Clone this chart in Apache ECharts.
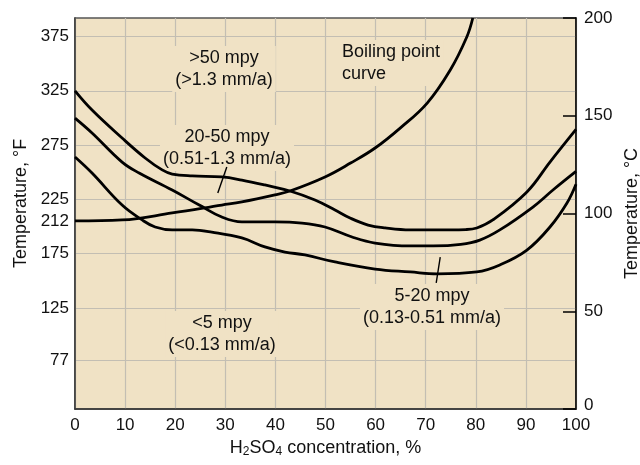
<!DOCTYPE html>
<html>
<head>
<meta charset="utf-8">
<script src="https://cdn.jsdelivr.net/npm/echarts@6/dist/echarts.min.js"></script>
<style>html,body{margin:0;padding:0;background:#fff;}#c{width:640px;height:465px;}</style>
</head>
<body>
<div id="c"></div>
<script>
// ---- data (x = H2SO4 %, y = temperature °C) ----
const xTicks = [0, 10, 20, 30, 40, 50, 60, 70, 80, 90, 100];
const fLabelTicks = [77, 125, 175, 212, 225, 275, 325, 375];
const fGridTicks = [77, 125, 175, 225, 275, 325, 375];
const cTicks = [0, 50, 100, 150, 200];

const boilingCurve = [[0,96.2],[9.4,96.7],[19.4,100.3],[29.3,104.3],[33.3,105.9],[39.9,109.5],[42.9,111.5],[49.9,118.7],[55,125.8],[59.9,133.5],[64.9,143.7],[70.3,156.5],[74.9,173.4],[78.2,190.3],[79.4,200]];
const curve50 = [[0,162.7],[3.4,152.9],[9.4,138.6],[14.0,128.4],[17.4,122.3],[19.4,120.2],[23.4,119.2],[29.3,118.7],[33.3,117.1],[37.9,114.6],[42.9,111.5],[47.9,106.9],[51.9,101.8],[54.9,97.7],[58.5,94.1],[61.9,92.6],[66.9,91.6],[71.5,91.6],[78,91.8],[80.2,92.6],[83.4,96.7],[90.2,111],[94.8,126.3],[100,143]];
const curve20 = [[0,148.8],[3.4,141.2],[9.4,126.3],[12.8,120.7],[19.4,112],[24.8,104.3],[29.3,98.2],[33.3,95.7],[39.9,95.7],[45.3,95.1],[49.9,93.1],[55.3,88],[59.9,84.9],[66.9,83.4],[71.5,83.4],[77,84.2],[80.8,86.4],[84.8,91.6],[91.4,103.3],[95.4,112],[100,121.5]];
const curve5 = [[0,128.9],[3.4,120.7],[9.4,104.3],[13.4,96.7],[16,93.1],[19.4,91.6],[23.4,91.6],[27.3,90.5],[33.3,87.5],[37.9,82.9],[41.9,80.3],[45.9,78.8],[51.9,75.2],[59.9,71.6],[66.9,70.1],[72.3,69.1],[80.2,70.1],[84.8,73.7],[90.2,81.3],[94.8,93.1],[98.2,105.4],[100,115]];
const leader2050 = [[30.3,123.8],[28.5,110.5]];
const leader520 = [[72.9,77.7],[72.1,64.5]];

const labelTexts = {
  above50: '>50 mpy\n(>1.3 mm/a)',
  range2050: '20-50 mpy\n(0.51-1.3 mm/a)',
  range520: '5-20 mpy\n(0.13-0.51 mm/a)',
  below5: '<5 mpy\n(<0.13 mm/a)',
  boiling: 'Boiling point\ncurve'
};

const FONT = '"Liberation Sans", Arial, Helvetica, sans-serif';
const BG = '#f0e2c5';
const GRID = '#c3beb3';
const INK = '#111';

const chart = echarts.init(document.getElementById('c'), null, {renderer: 'canvas'});

function curveSeries(data, w) {
  return {
    type: 'line', xAxisIndex: 0, yAxisIndex: 1, data: data,
    showSymbol: false, symbol: 'none', smooth: 0.4,
    lineStyle: {color: '#000', width: w}, silent: true, z: 3
  };
}
function textEl(text, x, y, align) {
  return {
    type: 'text', z: 1,
    style: {
      text: text, x: x, y: y, fill: INK,
      font: '18px ' + FONT, align: align || 'center', verticalAlign: 'middle',
      lineHeight: 22, backgroundColor: BG, padding: [1, 3, 1, 3]
    }
  };
}

chart.setOption({
  animation: false,
  textStyle: {fontFamily: FONT},
  grid: {left: 75, right: 64, top: 18, bottom: 56, outerBoundsMode: 'none', containLabel: false,
         show: true, backgroundColor: BG, borderColor: '#555', borderWidth: 1.5},
  xAxis: {
    type: 'value', min: 0, max: 100, interval: 10,
    name: '{n|H}{s|2}{n|SO}{s|4}{n| concentration, %}',
    nameLocation: 'middle', nameGap: 28,
    nameTextStyle: {rich: {
      n: {fontSize: 18, color: INK, fontFamily: FONT, lineHeight: 20},
      s: {fontSize: 12, color: INK, fontFamily: FONT, lineHeight: 8, verticalAlign: 'bottom'}
    }},
    axisLine: {lineStyle: {color: '#333', width: 1.5}},
    axisTick: {show: false},
    axisLabel: {fontSize: 17, color: INK, margin: 8, fontFamily: FONT},
    splitLine: {show: true, lineStyle: {color: GRID, width: 1.2}}
  },
  yAxis: [
    {
      type: 'value', min: 32, max: 392, position: 'left',
      name: 'Temperature, °F', nameLocation: 'middle', nameGap: 45,
      nameTextStyle: {fontSize: 18, color: INK, fontFamily: FONT, padding: [0, 0, 0, 20]},
      axisLine: {show: true, lineStyle: {color: '#333', width: 1.5}},
      axisTick: {show: false, customValues: fGridTicks},
      axisLabel: {
        customValues: fLabelTicks, fontSize: 17, color: INK, margin: 6, fontFamily: FONT,
        formatter: function (v) { return v === 212 ? '{d|212}' : String(v); },
        rich: {d: {fontSize: 17, color: INK, fontFamily: FONT, padding: [16, 0, 0, 0]}}
      },
      splitLine: {show: true, lineStyle: {color: GRID, width: 1.2}}
    },
    {
      type: 'value', min: 0, max: 200, interval: 50, position: 'right',
      name: 'Temperature, °C', nameLocation: 'middle', nameGap: 42,
      nameTextStyle: {fontSize: 18, color: INK, fontFamily: FONT},
      axisLine: {show: true, lineStyle: {color: '#000', width: 1.5}},
      axisTick: {show: true, inside: true, length: 13, lineStyle: {color: '#000', width: 1.5}},
      axisLabel: {
        fontSize: 17, color: INK, margin: 8, fontFamily: FONT,
        formatter: function (v) { return v === 0 ? '{z|0}' : String(v); },
        rich: {z: {fontSize: 17, color: INK, fontFamily: FONT, padding: [0, 0, 8, 0]}}
      },
      splitLine: {show: false}
    }
  ],
  series: [
    curveSeries(boilingCurve, 2.8),
    curveSeries(curve50, 2.8),
    curveSeries(curve20, 2.8),
    curveSeries(curve5, 2.8),
    Object.assign(curveSeries(leader2050, 1.4), {smooth: false}),
    Object.assign(curveSeries(leader520, 1.4), {smooth: false})
  ],
  graphic: [
    textEl(labelTexts.above50, 224, 69),
    textEl(labelTexts.boiling, 339, 63, 'left'),
    textEl(labelTexts.range2050, 227, 148),
    textEl(labelTexts.range520, 432, 307),
    textEl(labelTexts.below5, 222, 334)
  ]
});
</script>
</body>
</html>
